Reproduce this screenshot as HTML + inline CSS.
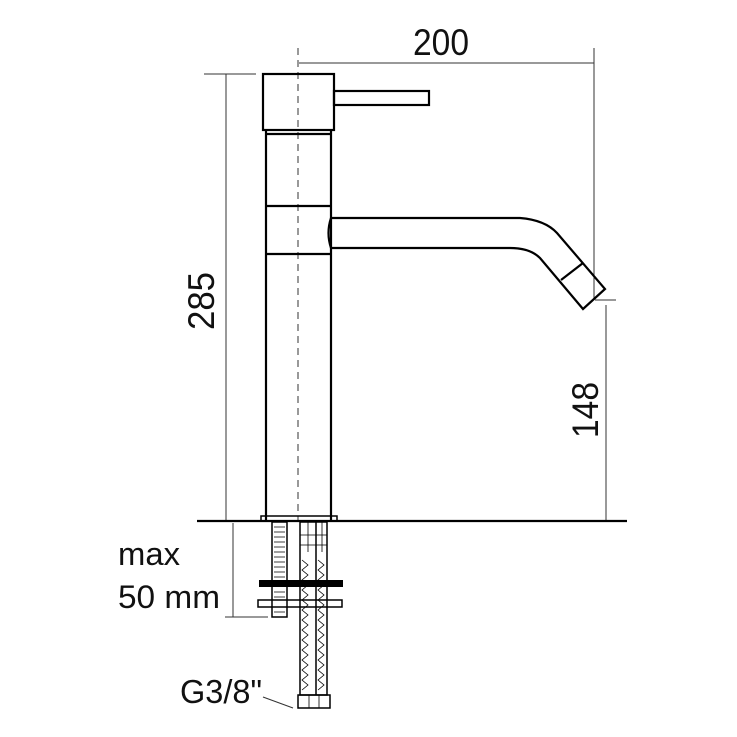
<!DOCTYPE html>
<html><head><style>html,body{margin:0;padding:0;background:#fff}svg{display:block}</style></head>
<body>
<svg width="737" height="737" viewBox="0 0 737 737" xmlns="http://www.w3.org/2000/svg" font-family="Liberation Sans, sans-serif">
<g stroke="#000" fill="none">
<g stroke-width="1" stroke="#333">
<line x1="299" y1="63" x2="594" y2="63"/>
<line x1="594" y1="48" x2="594" y2="300"/>
<line x1="204" y1="74" x2="256" y2="74"/>
<line x1="226" y1="74" x2="226" y2="520"/>
<line x1="595" y1="300" x2="616" y2="300"/>
<line x1="606" y1="305" x2="606" y2="520"/>
<line x1="233" y1="523" x2="233" y2="617"/>
<line x1="225" y1="617" x2="268" y2="617"/>
<line x1="263" y1="697" x2="293" y2="708"/>
<line x1="298" y1="48" x2="298" y2="520" stroke-dasharray="7,5"/>
</g>
<g stroke-width="2.2">
<rect x="263" y="74" width="71" height="56"/>
<rect x="334" y="91" width="95" height="14"/>
<path d="M266 131 L266 520 M331 131 L331 520 M266 134 L331 134 M266 206 L331 206 M266 254 L331 254"/>
<path d="M331 218 L520 218 Q545 220 557 233 L605 289 L583 309 L540 258 Q530 248 510 248 L331 248 Q326 233 331 218 Z"/>
<line x1="561" y1="280" x2="583" y2="263"/>
<line x1="197" y1="521" x2="627" y2="521"/>
<rect x="261" y="516" width="76" height="5" stroke-width="1.5"/>
<rect x="272" y="522" width="15" height="95" stroke-width="1.5"/>
<rect x="300" y="522" width="27" height="173" stroke-width="1.5"/>
<line x1="316" y1="522" x2="316" y2="695" stroke-width="1.5"/>
<rect x="298" y="695" width="32" height="13" stroke-width="1.5"/>
<rect x="258" y="600" width="84" height="7" stroke-width="1.5"/>
</g>
<g stroke-width="0.8">
<path d="M274 527h11M274 532h11M274 537h11M274 542h11M274 547h11M274 552h11M274 557h11M274 562h11M274 567h11M274 572h11M274 577h11M274 592h11M274 597h11M274 612h11"/>
<path d="M300 535h27M300 545h27M308 522v30M322 522v30"/>
<path d="M302 560l6 5l-6 5l6 5l-6 5l6 5l-6 5l6 5l-6 5l6 5l-6 5l6 5l-6 5l6 5l-6 5l6 5l-6 5l6 5l-6 5l6 5l-6 5l6 5l-6 5l6 5l-6 5l6 5l-6 5"/>
<path d="M318 560l6 5l-6 5l6 5l-6 5l6 5l-6 5l6 5l-6 5l6 5l-6 5l6 5l-6 5l6 5l-6 5l6 5l-6 5l6 5l-6 5l6 5l-6 5l6 5l-6 5l6 5l-6 5l6 5l-6 5"/>
<path d="M309 695v13M319 695v13"/>
</g>
<rect x="259" y="580" width="84" height="7" fill="#000" stroke="none"/>
</g>
<g fill="#111">
<text x="413" y="55" font-size="37" textLength="56" lengthAdjust="spacingAndGlyphs">200</text>
<text transform="translate(214,330) rotate(-90)" font-size="37" textLength="58" lengthAdjust="spacingAndGlyphs">285</text>
<text transform="translate(598,438) rotate(-90)" font-size="37" textLength="56" lengthAdjust="spacingAndGlyphs">148</text>
<text x="118" y="565" font-size="32" textLength="62" lengthAdjust="spacingAndGlyphs">max</text>
<text x="118" y="608" font-size="32" textLength="102" lengthAdjust="spacingAndGlyphs">50 mm</text>
<text x="180" y="703" font-size="33" textLength="82" lengthAdjust="spacingAndGlyphs">G3/8"</text>
</g>
</svg>
</body></html>
